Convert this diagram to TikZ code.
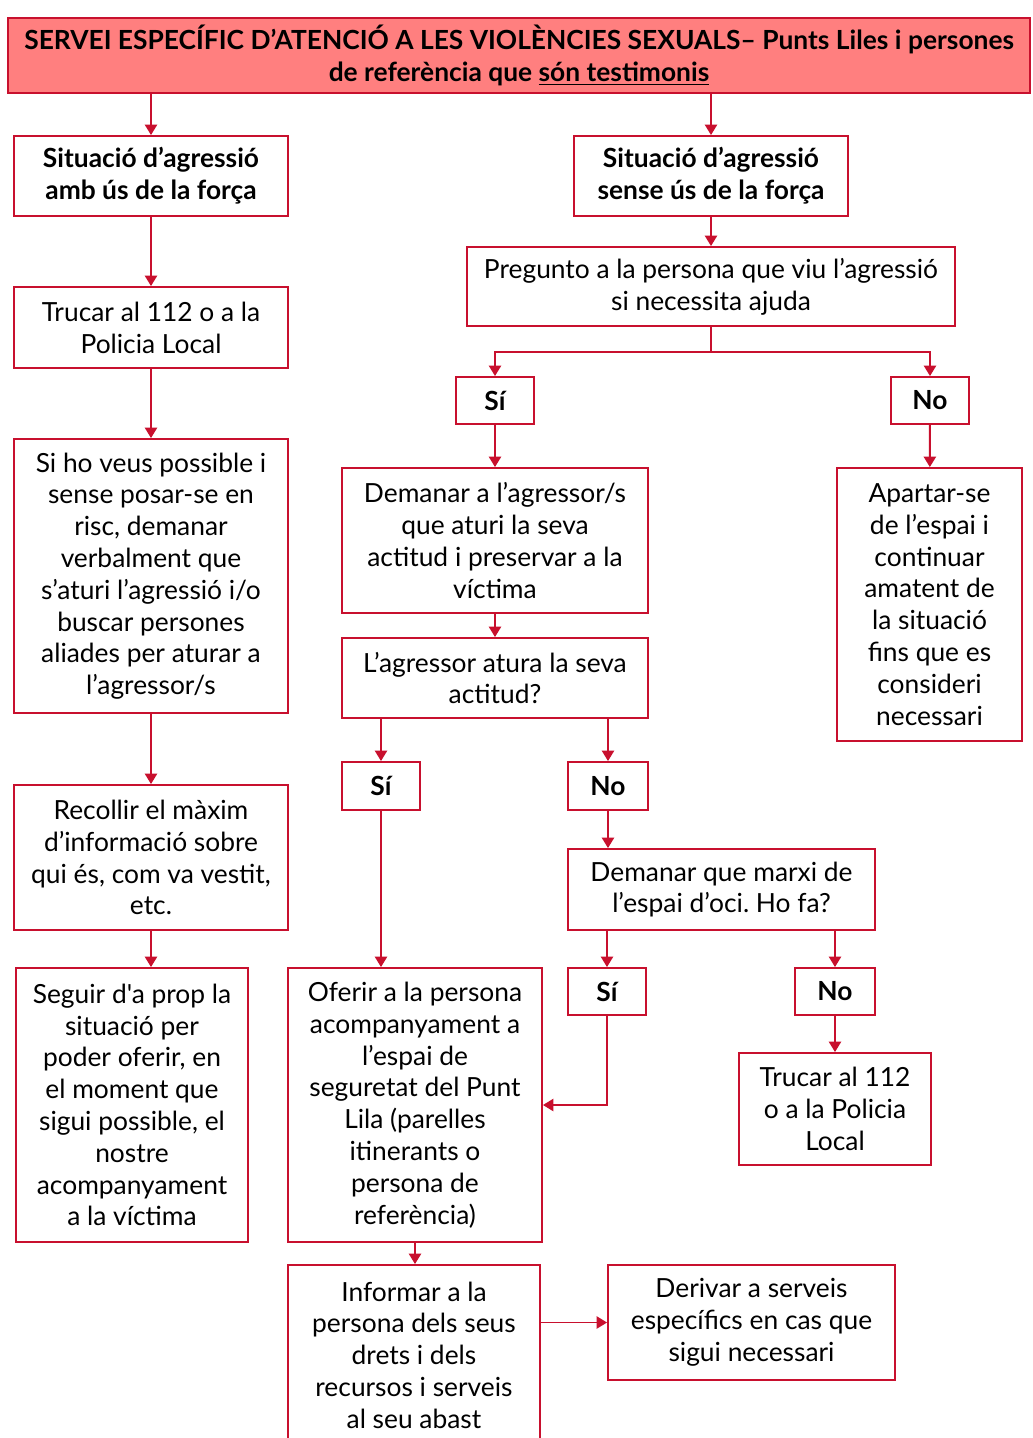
\documentclass[tikz,border=0pt]{standalone}
\usepackage{fontspec}
\setmainfont{Lato}[Ligatures=TeXOff]
\usetikzlibrary{arrows.meta}

\definecolor{vermell}{HTML}{C8102E}
\definecolor{rosa}{HTML}{FF7F7F}

\tikzset{
    box/.style={draw=vermell, line width=1.1pt, align=center, inner sep=2pt,
        font=\fontsize{15}{18.1}\selectfont\frenchspacing},
    boldbox/.style={box, font=\fontsize{15}{18.1}\selectfont\bfseries},
    arr/.style={draw=vermell, line width=1.1pt, -{Triangle[width=7pt,length=6pt]}},
}

\begin{document}
\begin{tikzpicture}[x=0.02cm, y=-0.02cm]
    \clip (0,0) rectangle (1032,1438);
    \fill [white] (0,0) rectangle (1032,1438);

    % title
    \node (title) at (519,55.5) [boldbox, fill=rosa, minimum width=20.44cm, minimum height=1.5cm] {SERVEI ESPECÍFIC D’ATENCIÓ A LES VIOLÈNCIES SEXUALS– Punts Liles i persones\\ de referència que \underline{són testimonis}};

    % left column
    \node (a1) at (151,176) [boldbox, minimum width=5.48cm, minimum height=1.6cm] {Situació d’agressió\\ amb ús de la força};
    \node (a2) at (151,327.5) [box, minimum width=5.48cm, minimum height=1.62cm] {Trucar al 112 o a la\\ Policia Local};
    \node (a3) at (151,576) [box, minimum width=5.48cm, minimum height=5.48cm] {Si ho veus possible i\\ sense posar-se en\\ risc, demanar\\ verbalment que\\ s’aturi l’agressió i/o\\ buscar persones\\ aliades per aturar a\\ l’agressor/s};
    \node (a4) at (151,857.5) [box, minimum width=5.48cm, minimum height=2.9cm] {Recollir el màxim\\ d’informació sobre\\ qui és, com va vestit,\\ etc.};
    \node (a5) at (132,1105) [box, minimum width=4.64cm, minimum height=5.48cm] {Seguir d'a prop la\\ situació per\\ poder oferir, en\\ el moment que\\ sigui possible, el\\ nostre\\ acompanyament\\ a la víctima};

    % right part
    \node (b1) at (711,176) [boldbox, minimum width=5.48cm, minimum height=1.6cm] {Situació d’agressió\\ sense ús de la força};
    \node (b2) at (711,286.5) [box, minimum width=9.76cm, minimum height=1.58cm] {Pregunto a la persona que viu l’agressió\\ si necessita ajuda};
    \node (b3) at (495,400.5) [boldbox, minimum width=1.56cm, minimum height=0.94cm] {Sí};
    \node (b4) at (930,400.5) [boldbox, minimum width=1.56cm, minimum height=0.94cm] {No};
    \node (b5) at (495,540.5) [box, minimum width=6.12cm, minimum height=2.9cm] {Demanar a l’agressor/s\\ que aturi la seva\\ actitud i preservar a la\\ víctima};
    \node (b6) at (929.5,604.5) [box, minimum width=3.7cm, minimum height=5.46cm] {Apartar-se\\ de l’espai i\\ continuar\\ amatent de\\ la situació\\ fins que es\\ consideri\\ necessari};
    \node (b7) at (495,678) [box, minimum width=6.12cm, minimum height=1.6cm] {L’agressor atura la seva\\ actitud?};
    \node (b8) at (381,786) [boldbox, minimum width=1.56cm, minimum height=0.96cm] {Sí};
    \node (b9) at (608,786) [boldbox, minimum width=1.6cm, minimum height=0.96cm] {No};
    \node (b10) at (721.5,889.5) [box, minimum width=6.14cm, minimum height=1.62cm] {Demanar que marxi de\\ l’espai d’oci. Ho fa?};
    \node (b11) at (607,991.5) [boldbox, minimum width=1.56cm, minimum height=0.94cm] {Sí};
    \node (b12) at (835,991.5) [boldbox, minimum width=1.6cm, minimum height=0.94cm] {No};
    \node (b13) at (835,1109) [box, minimum width=3.84cm, minimum height=2.24cm] {Trucar al 112\\ o a la Policia\\ Local};
    \node (b14) at (415,1105) [box, minimum width=5.08cm, minimum height=5.48cm] {Oferir a la persona\\ acompanyament a\\ l’espai de\\ seguretat del Punt\\ Lila (parelles\\ itinerants o\\ persona de\\ referència)};
    \node (b15) at (414,1355) [box, minimum width=5.04cm, minimum height=3.6cm] {Informar a la\\ persona dels seus\\ drets i dels\\ recursos i serveis\\ al seu abast};
    \node (b16) at (751.5,1322.5) [box, minimum width=5.74cm, minimum height=2.3cm] {Derivar a serveis\\ específics en cas que\\ sigui necessari};

    \coordinate (fork) at (711,352);

    % connectors
    \draw [arr] (a1.north |- title.south) -- (a1.north);
    \draw [arr] (b1.north |- title.south) -- (b1.north);
    \draw [arr] (a1) -- (a2);
    \draw [arr] (a2) -- (a3);
    \draw [arr] (a3) -- (a4);
    \draw [arr] (a4.south) -- (a4.south |- a5.north);
    \draw [arr] (b1) -- (b2);
    \draw [draw=vermell, line width=1.1pt] (b2.south) -- (fork);
    \draw [arr] (fork) -| (b3.north);
    \draw [arr] (fork) -| (b4.north);
    \draw [arr] (b3) -- (b5);
    \draw [arr] (b4) -- (b6);
    \draw [arr] (b5) -- (b7);
    \draw [arr] (b8.north |- b7.south) -- (b8.north);
    \draw [arr] (b9.north |- b7.south) -- (b9.north);
    \draw [arr] (b9.south) -- (b9.south |- b10.north);
    \draw [arr] (b11.north |- b10.south) -- (b11.north);
    \draw [arr] (b12.north |- b10.south) -- (b12.north);
    \draw [arr] (b12) -- (b13);
    \draw [arr] (b8.south) -- (b8.south |- b14.north);
    \draw [arr] (b11.south) |- (b14.east);
    \draw [arr] (b14.south) -- (b14.south |- b15.north);
    \draw [arr] (b15.east |- b16.west) -- (b16.west);
\end{tikzpicture}
\end{document}
